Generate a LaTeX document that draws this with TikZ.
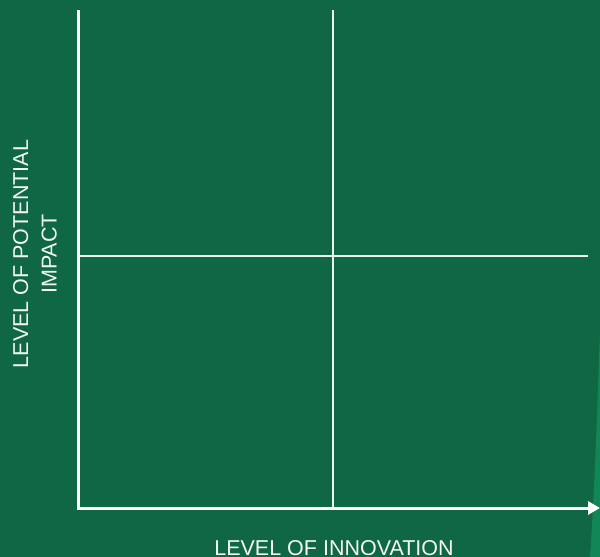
\documentclass[tikz,border=0pt]{standalone}
\usepackage{fontspec}
\setmainfont{Liberation Sans}
\usetikzlibrary{arrows.meta}
\definecolor{bggreen}{HTML}{0F6843}
\definecolor{edgegreen}{HTML}{118656}
\tikzset{
  axis/.style={draw=white,line width=3pt,-{Triangle[length=12pt,width=13pt]}},
  grid/.style={draw=white!92!bggreen,line width=1.4pt},
  label/.style={text=white!95!bggreen,font=\fontsize{21.5}{28.5}\selectfont,align=center}
}
\begin{document}
\begin{tikzpicture}[x=1pt,y=-1pt]
    \useasboundingbox (0,0) rectangle (600,557);
    \fill[bggreen] (0,0) rectangle (600,557);
    \fill[edgegreen] (600,330) .. controls (597,420) and (594,500) .. (590,557) -- (600,557) -- cycle;
    \coordinate (ytop) at (78,10);
    \coordinate (o) at (78,508);
    \coordinate (xend) at (600,508);
    \coordinate (mtop) at (333,10);
    \coordinate (mbot) at (333,508);
    \coordinate (ml) at (78,256);
    \coordinate (mr) at (588,256);
    \draw[grid] (mtop)--(mbot);
    \draw[grid] (ml)--(mr);
    \draw[axis] (ytop)--(o)--(xend);
    \node[label,anchor=base] (xlabel) at (334,555) {LEVEL OF INNOVATION};
    \node[label,rotate=90] (ylabel) at (35,254) {LEVEL OF POTENTIAL\\IMPACT};
\end{tikzpicture}
\end{document}
